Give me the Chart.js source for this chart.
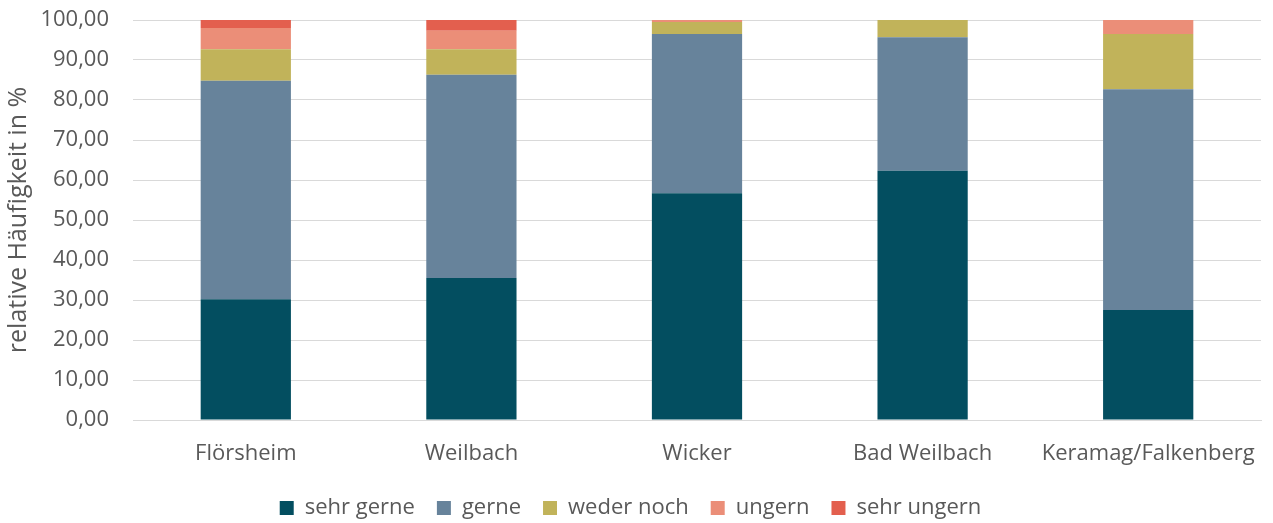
<!DOCTYPE html>
<html>
<head>
<meta charset="utf-8">
<script src="https://cdn.jsdelivr.net/npm/chart.js@4.4.0/dist/chart.umd.min.js"></script>
<style>
  html, body { margin: 0; padding: 0; background: #fff; }
  #chart { display: block; }
</style>
</head>
<body>
<canvas id="chart" width="1273" height="523"></canvas>
<script>
// Standorte
const categories = ['Flörsheim', 'Weilbach', 'Wicker', 'Bad Weilbach', 'Keramag/Falkenberg'];

// relative Häufigkeit in % je Antwort
const sehrGerne  = [30.2, 35.5, 56.7, 62.3, 27.5];
const gerne      = [54.6, 50.8, 39.8, 33.4, 55.2];
const wederNoch  = [7.9, 6.4, 3.0, 4.3, 13.8];
const ungern     = [5.3, 4.6, 0.5, 0, 3.5];
const sehrUngern = [2.0, 2.7, 0, 0, 0];

const seriesNames = ['sehr gerne', 'gerne', 'weder noch', 'ungern', 'sehr ungern'];
const seriesData = [sehrGerne, gerne, wederNoch, ungern, sehrUngern];
const seriesColors = ['#034e60', '#67839b', '#c1b35a', '#eb8e78', '#e35f4e'];

const textColor = '#595959';
const gridColor = '#d9d9d9';
const font = 'Open Sans';

const datasets = seriesNames.map((name, i) => ({
  label: name,
  data: seriesData[i],
  backgroundColor: seriesColors[i],
  borderWidth: 0,
  barPercentage: 0.4,
  categoryPercentage: 1.0
}));

new Chart(document.getElementById('chart'), {
  type: 'bar',
  data: { labels: categories, datasets: datasets },
  options: {
    responsive: false,
    animation: false,
    layout: { padding: { top: 20, right: 12, bottom: -6, left: 0 } },
    plugins: {
      tooltip: { enabled: false },
      legend: {
        position: 'bottom',
        labels: {
          boxWidth: 14,
          boxHeight: 14,
          padding: 22,
          color: textColor,
          font: { family: font, size: 22 }
        }
      }
    },
    scales: {
      x: {
        stacked: true,
        grid: { display: false, drawTicks: false },
        border: { display: true, color: gridColor, width: 1 },
        ticks: {
          color: textColor,
          padding: 21,
          maxRotation: 0,
          autoSkip: false,
          font: { family: font, size: 22 }
        },
        afterFit: (scale) => {
          scale.height = 55;
          scale.paddingLeft = 0;
          scale.paddingRight = 0;
        }
      },
      y: {
        stacked: true,
        min: 0,
        max: 100,
        grid: { color: gridColor, lineWidth: 1, drawTicks: false },
        border: { display: false },
        ticks: {
          stepSize: 10,
          color: textColor,
          padding: 24,
          font: { family: font, size: 22 },
          callback: (v) => v.toFixed(2).replace('.', ',')
        },
        title: {
          display: true,
          text: 'relative Häufigkeit in %',
          color: textColor,
          padding: { top: 4, bottom: 0 },
          font: { family: font, size: 25 }
        },
        afterFit: (scale) => {
          scale.width = 133;
          scale.paddingTop = 0;
          scale.paddingBottom = 0;
        }
      }
    }
  }
});
</script>
</body>
</html>
